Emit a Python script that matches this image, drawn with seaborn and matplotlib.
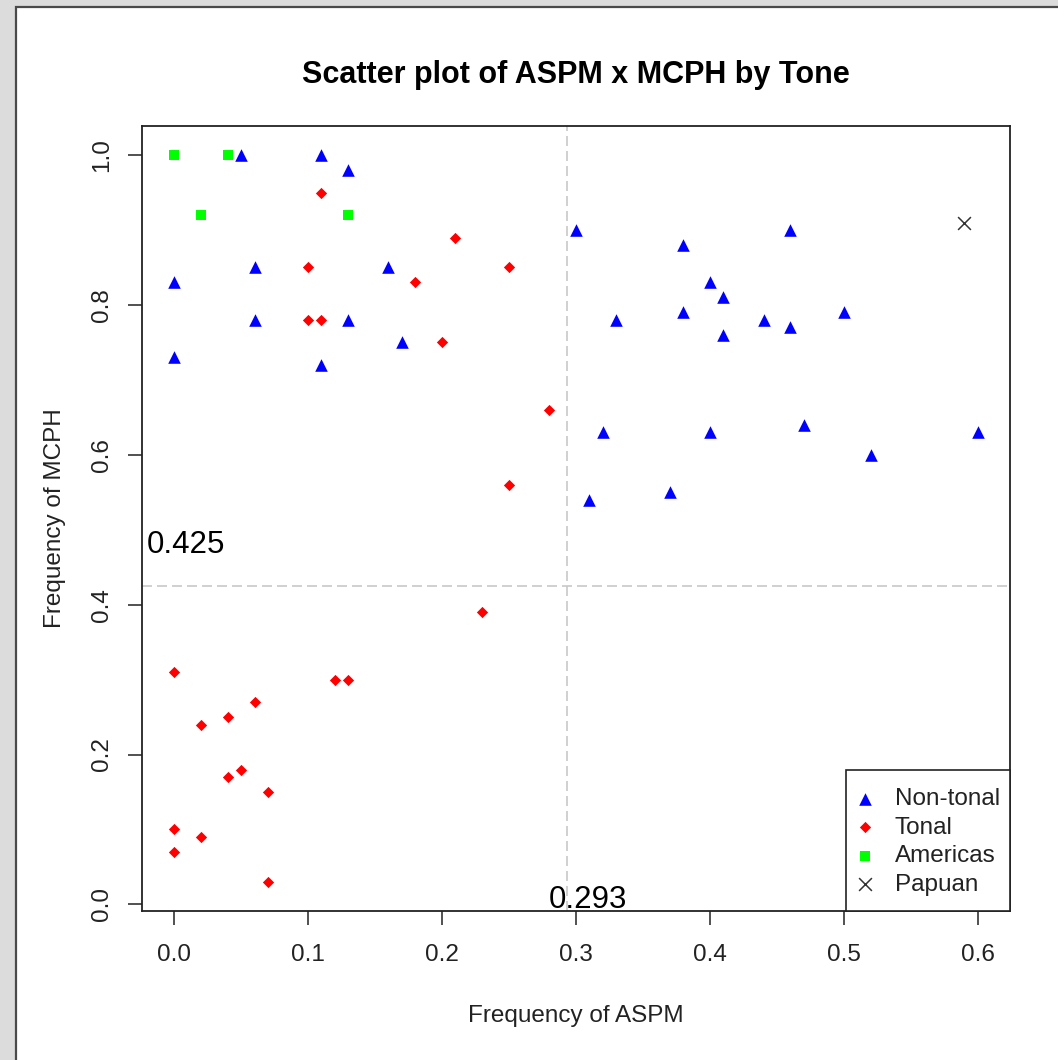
import matplotlib
matplotlib.use("Agg")
import matplotlib.pyplot as plt
import seaborn as sns
import pandas as pd
from matplotlib.patches import Rectangle

# ---------------- data ----------------
nontonal_aspm = [0.05, 0.11, 0.13, 0.00, 0.00, 0.06, 0.06, 0.13, 0.11, 0.16, 0.17,
                 0.30, 0.33, 0.38, 0.38, 0.40, 0.41, 0.41, 0.44, 0.46, 0.46, 0.50,
                 0.32, 0.40, 0.47, 0.52, 0.60, 0.31, 0.37]
nontonal_mcph = [1.00, 1.00, 0.98, 0.83, 0.73, 0.85, 0.78, 0.78, 0.72, 0.85, 0.75,
                 0.90, 0.78, 0.88, 0.79, 0.83, 0.81, 0.76, 0.78, 0.90, 0.77, 0.79,
                 0.63, 0.63, 0.64, 0.60, 0.63, 0.54, 0.55]
tonal_aspm = [0.11, 0.21, 0.10, 0.25, 0.18, 0.10, 0.11, 0.20, 0.28, 0.25, 0.23,
              0.00, 0.12, 0.13, 0.02, 0.04, 0.06, 0.04, 0.05, 0.07, 0.00, 0.00,
              0.02, 0.07]
tonal_mcph = [0.95, 0.89, 0.85, 0.85, 0.83, 0.78, 0.78, 0.75, 0.66, 0.56, 0.39,
              0.31, 0.30, 0.30, 0.24, 0.25, 0.27, 0.17, 0.18, 0.15, 0.10, 0.07,
              0.09, 0.03]
americas_aspm = [0.00, 0.04, 0.02, 0.13]
americas_mcph = [1.00, 1.00, 0.92, 0.92]
papuan_aspm = [0.59]
papuan_mcph = [0.91]

groups = ["Non-tonal", "Tonal", "Americas", "Papuan"]
aspm_cut = 0.293
mcph_cut = 0.425
x_ticks = [0.0, 0.1, 0.2, 0.3, 0.4, 0.5, 0.6]
y_ticks = [0.0, 0.2, 0.4, 0.6, 0.8, 1.0]

df = pd.concat([
    pd.DataFrame({"aspm": nontonal_aspm, "mcph": nontonal_mcph, "group": groups[0]}),
    pd.DataFrame({"aspm": tonal_aspm, "mcph": tonal_mcph, "group": groups[1]}),
    pd.DataFrame({"aspm": americas_aspm, "mcph": americas_mcph, "group": groups[2]}),
    pd.DataFrame({"aspm": papuan_aspm, "mcph": papuan_mcph, "group": groups[3]}),
], ignore_index=True)

# ---------------- style ----------------
sns.set_style("ticks")
plt.rcParams["font.family"] = ["Liberation Sans", "DejaVu Sans"]

W, H = 1058, 1060
fig = plt.figure(figsize=(W / 100, H / 100), dpi=100)
fig.patch.set_facecolor("#DCDCDC")
# white page with dark border on left/top
page = Rectangle((16 / W, -0.01), 1.05, 1 - 6.5 / H + 0.01,
                 transform=fig.transFigure, facecolor="white",
                 edgecolor="#4a4a4a", linewidth=1.6, zorder=-10)
fig.patches.append(page)

AX_L, AX_R, AX_T, AX_B = 142, 1010, 126, 911
ax = fig.add_axes([AX_L / W, 1 - AX_B / H, (AX_R - AX_L) / W, (AX_B - AX_T) / H])
ax.set_zorder(5)
ax.set_facecolor("white")

styles = {
    "Non-tonal": dict(marker="^", color="#0000FF", s=82, linewidth=0),
    "Tonal": dict(marker="D", color="#FF0000", s=33, linewidth=0),
    "Americas": dict(marker="s", color="#00FF00", s=62, linewidth=0),
    "Papuan": dict(marker="x", color="#333333", s=85, linewidth=1.1),
}
for g in groups:
    sub = df[df["group"] == g]
    sns.scatterplot(data=sub, x="aspm", y="mcph", ax=ax, label=g, zorder=3,
                    **styles[g])

ax.axvline(aspm_cut, color="#C8C8C8", linewidth=1.2, linestyle=(0, (6, 3)), zorder=1)
ax.axhline(mcph_cut, color="#C8C8C8", linewidth=1.2, linestyle=(0, (6, 3)), zorder=1)

ax.text(-0.0205, 0.469, f"{mcph_cut:.3f}", fontsize=22.5, ha="left", va="baseline",
        color="black")
ax.text(0.2795, -0.005, f"{aspm_cut:.3f}", fontsize=22.5, ha="left", va="baseline",
        color="black")

ax.set_xlim(-0.024, 0.624)
ax.set_ylim(-0.0088, 1.0388)
ax.set_xticks(x_ticks)
ax.set_yticks(y_ticks)
ax.set_xticklabels([f"{v:.1f}" for v in x_ticks])
ax.set_yticklabels([f"{v:.1f}" for v in y_ticks], rotation=90, va="center")
ax.tick_params(axis="both", direction="out", length=10, width=1.2, color="#333333",
               labelsize=17.5, labelcolor="#222222")
ax.tick_params(axis="x", pad=14)
ax.tick_params(axis="y", pad=11)
for sp in ax.spines.values():
    sp.set_visible(True)
    sp.set_linewidth(1.3)
    sp.set_color("#222222")

ax.set_xlabel("Frequency of ASPM", fontsize=17.5, labelpad=28, color="#222222")
ax.set_ylabel("Frequency of MCPH", fontsize=17.5, labelpad=18, color="#222222")
ax.set_title("Scatter plot of ASPM x MCPH by Tone", fontsize=22, fontweight="bold",
             pad=31, color="black")

# legend: R-style box in the lower-right corner
aw, ah = AX_R - AX_L, AX_B - AX_T
box_l, box_t = 846, 770
ax.add_patch(Rectangle(((box_l - AX_L) / aw, 0), (AX_R - box_l) / aw, (AX_B - box_t) / ah,
                       transform=ax.transAxes, facecolor="white", edgecolor="#222222",
                       linewidth=1.2, zorder=6, clip_on=False))
leg = ax.legend(loc="center left", bbox_to_anchor=((863.8 - AX_L) / aw, (AX_B - 842) / ah),
                bbox_transform=ax.transAxes, borderaxespad=0, borderpad=0,
                frameon=False, fontsize=17.5, handletextpad=1.18, handlelength=0.1,
                labelspacing=0.27)
leg.set_zorder(7)
for t in leg.get_texts():
    t.set_color("#222222")

fig.savefig("out.png", dpi=100, facecolor=fig.get_facecolor())
